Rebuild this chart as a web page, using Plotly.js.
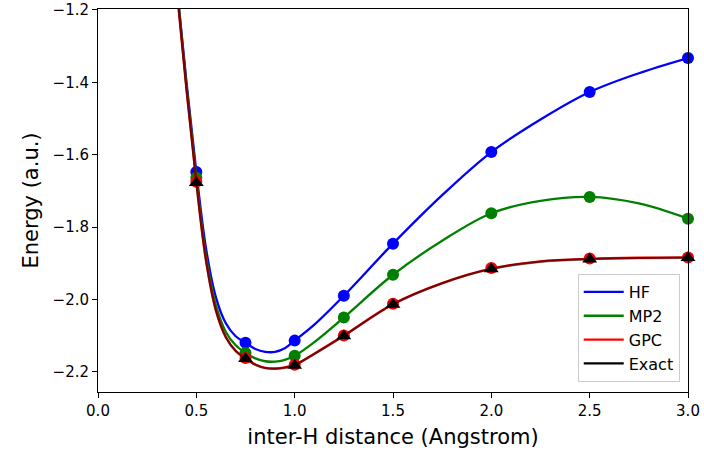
<!DOCTYPE html>
<html>
<head>
<meta charset="utf-8">
<script src="https://cdn.plot.ly/plotly-3.0.1.min.js"></script>
<style>html,body{margin:0;padding:0;background:#fff;}#chart{width:704px;height:457px;}</style>
</head>
<body>
<div id="chart"></div>
<script>
// Computed points
const distX = [0.5, 0.75, 1.0, 1.25, 1.5, 2.0, 2.5, 3.0];
const hfE    = [-1.648, -2.120, -2.114, -1.990, -1.846, -1.593, -1.427, -1.333];
const mp2E   = [-1.664, -2.148, -2.156, -2.050, -1.932, -1.762, -1.717, -1.777];
const gpcE   = [-1.675, -2.162, -2.181, -2.100, -2.012, -1.913, -1.887, -1.884];
const exactE = [-1.678, -2.164, -2.183, -2.101, -2.014, -1.916, -1.889, -1.885];

// Fitted curves
const curveX     = [0.40, 0.45, 0.50, 0.55, 0.60, 0.65, 0.70, 0.75, 0.80, 0.85, 0.90, 0.95, 1.00, 1.10, 1.25, 1.50, 1.75, 2.00, 2.25, 2.50, 2.75, 3.00];
const hfCurve    = [-1.13, -1.40, -1.648, -1.862, -1.995, -2.066, -2.102, -2.120, -2.137, -2.145, -2.145, -2.135, -2.114, -2.070, -1.990, -1.846, -1.712, -1.593, -1.503, -1.427, -1.375, -1.333];
const mp2Curve   = [-1.13, -1.41, -1.664, -1.883, -2.017, -2.090, -2.127, -2.148, -2.163, -2.171, -2.172, -2.167, -2.156, -2.118, -2.050, -1.932, -1.838, -1.762, -1.728, -1.717, -1.735, -1.777];
const gpcCurve   = [-1.14, -1.42, -1.676, -1.895, -2.031, -2.104, -2.142, -2.163, -2.180, -2.189, -2.191, -2.188, -2.181, -2.150, -2.100, -2.013, -1.955, -1.915, -1.895, -1.888, -1.885, -1.884];
const exactCurve = [-1.14, -1.42, -1.677, -1.896, -2.032, -2.105, -2.143, -2.164, -2.181, -2.190, -2.192, -2.189, -2.182, -2.151, -2.101, -2.014, -1.956, -1.916, -1.896, -1.889, -1.886, -1.885];

const seriesNames = ['HF', 'MP2', 'GPC', 'Exact'];

function curve(y, color) {
  return {x: curveX, y: y, mode: 'lines', line: {color: color, width: 2.3, shape: 'spline', smoothing: 1}, showlegend: false, hoverinfo: 'skip'};
}
function pts(y, color, symbol, size) {
  return {x: distX, y: y, mode: 'markers', marker: {color: color, symbol: symbol, size: size, line: {width: 0}}, showlegend: false, cliponaxis: false};
}
function leg(name, color) {
  return {x: [null], y: [null], mode: 'lines', name: name, legendgroup: name, line: {color: color, width: 2.3}};
}

const data = [
  curve(hfCurve, 'blue'),
  pts(hfE, 'blue', 'circle', 12),
  curve(mp2Curve, 'green'),
  pts(mp2E, 'green', 'circle', 12),
  curve(gpcCurve, 'red'),
  pts(gpcE, 'red', 'circle', 12),
  pts(exactE, 'black', 'triangle-up', 13),
  curve(exactCurve, 'rgba(0,0,0,0.5)'),
  leg(seriesNames[0], 'blue'),
  leg(seriesNames[1], 'green'),
  leg(seriesNames[2], 'red'),
  leg(seriesNames[3], 'black')
];

const axisCommon = {
  showgrid: false, zeroline: false, showline: true, linecolor: 'black', linewidth: 1, mirror: true,
  ticks: 'outside', ticklen: 5, tickwidth: 1, tickcolor: 'black',
  tickfont: {family: 'DejaVu Sans', size: 15, color: 'black'}
};

const layout = {
  width: 704, height: 457,
  margin: {l: 98, r: 16, t: 9, b: 65},
  paper_bgcolor: 'white', plot_bgcolor: 'white',
  font: {family: 'DejaVu Sans', color: 'black'},
  xaxis: Object.assign({}, axisCommon, {
    range: [0, 3], tickmode: 'array', tickvals: [0, 0.5, 1, 1.5, 2, 2.5, 3], tickformat: '.1f',
    title: {text: 'inter-H distance (Angstrom)', font: {family: 'DejaVu Sans', size: 21, color: 'black'}, standoff: 10}
  }),
  yaxis: Object.assign({}, axisCommon, {
    range: [-2.256, -1.1975], tickmode: 'array', tickvals: [-2.2, -2.0, -1.8, -1.6, -1.4, -1.2], tickformat: '.1f',
    title: {text: 'Energy (a.u.)', font: {family: 'DejaVu Sans', size: 21, color: 'black'}, standoff: 8}
  }),
  legend: {
    x: 0.986, y: 0.026, xanchor: 'right', yanchor: 'bottom',
    bgcolor: 'rgba(255,255,255,0.8)', bordercolor: '#cccccc', borderwidth: 1,
    font: {family: 'DejaVu Sans', size: 16, color: 'black'},
    tracegroupgap: 0, itemwidth: 40
  },
  showlegend: true
};

Plotly.newPlot('chart', data, layout, {displayModeBar: false, staticPlot: true});
</script>
</body>
</html>
